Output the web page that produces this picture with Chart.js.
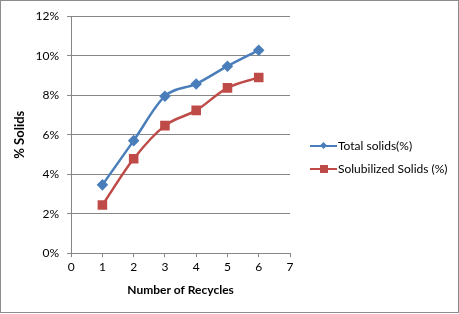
<!DOCTYPE html>
<html>
<head>
<meta charset="utf-8">
<script src="https://cdn.jsdelivr.net/npm/chart.js@4"></script>
<style>
  body { margin: 0; background: #fff; }
  #wrap { position: relative; width: 457px; height: 311px; border: 1px solid #8c8c8c; box-sizing: content-box; }
  #legend { position: absolute; left: 309px; top: 133px; font-family: Lato, "Open Sans", sans-serif; font-size: 12px; color: #000; }
  #legend div { display: flex; align-items: center; height: 23px; }
  .sw { position: relative; width: 27px; height: 10px; margin-right: 1px; }
  .sw .ln { position: absolute; left: 0; right: 0; top: 4px; height: 2px; }
  .sw .mk { position: absolute; }
</style>
</head>
<body>
<div id="wrap">
  <canvas id="chart" width="457" height="311"></canvas>
  <div id="legend"></div>
</div>
<script>
document.addEventListener('DOMContentLoaded', () => {
    const recycles = [1, 2, 3, 4, 5, 6];
    const totalSolids = [3.46, 5.70, 7.95, 8.57, 9.47, 10.28];
    const solubilizedSolids = [2.44, 4.78, 6.46, 7.23, 8.37, 8.90];
    const seriesNames = ['Total solids(%)', 'Solubilized Solids (%)'];
    const blue = '#4A7EBB';
    const red = '#BE4B48';
    const font = { family: 'Lato, "Open Sans", sans-serif', size: 12 };

    const toPoints = vals => vals.map((v, i) => ({ x: recycles[i], y: v }));

    new Chart(document.getElementById('chart'), {
        type: 'scatter',
        data: {
            datasets: [{
                label: seriesNames[0],
                data: toPoints(totalSolids),
                showLine: true,
                borderColor: blue,
                backgroundColor: blue,
                borderWidth: 2.5,
                pointStyle: 'rectRot',
                pointRadius: 4,
                cubicInterpolationMode: 'monotone'
            }, {
                label: seriesNames[1],
                data: toPoints(solubilizedSolids),
                showLine: true,
                borderColor: red,
                backgroundColor: red,
                borderWidth: 2.5,
                pointStyle: 'rect',
                pointRadius: 5,
                cubicInterpolationMode: 'monotone'
            }]
        },
        options: {
            responsive: false,
            animation: false,
            layout: { padding: { left: 11, right: 168, top: 15, bottom: 11 } },
            plugins: { legend: { display: false }, tooltip: { enabled: false } },
            scales: {
                x: {
                    type: 'linear',
                    min: 0, max: 7,
                    ticks: { stepSize: 1, color: '#000', font, padding: 3 },
                    grid: { drawOnChartArea: false, drawTicks: true, tickLength: 4, color: '#868686' },
                    border: { color: '#868686' },
                    title: { display: true, text: 'Number of Recycles', color: '#000', font: { ...font, weight: 'bold' }, padding: { top: 5 } }
                },
                y: {
                    min: 0, max: 12,
                    ticks: { stepSize: 2, color: '#000', font, padding: 8, callback: v => v + '%' },
                    grid: { color: '#868686', tickLength: 4 },
                    border: { color: '#868686' },
                    title: { display: true, text: '% Solids', color: '#000', font: { ...font, size: 13, weight: 'bold' }, padding: 0 }
                }
            }
        }
    });

    // Legend with line + marker swatches
    const legend = document.getElementById('legend');
    [[blue, 'diamond'], [red, 'square']].forEach(([c, shape], i) => {
        const row = document.createElement('div');
        const sw = document.createElement('span');
        sw.className = 'sw';
        const ln = document.createElement('span');
        ln.className = 'ln';
        ln.style.background = c;
        const mk = document.createElement('span');
        mk.className = 'mk';
        mk.style.background = c;
        if (shape === 'diamond') {
            Object.assign(mk.style, { width: '5px', height: '5px', left: '11px', top: '2px', transform: 'rotate(45deg)' });
        } else {
            Object.assign(mk.style, { width: '8px', height: '8px', left: '10px', top: '1px' });
        }
        sw.appendChild(ln);
        sw.appendChild(mk);
        const txt = document.createElement('span');
        txt.innerText = seriesNames[i];
        row.appendChild(sw);
        row.appendChild(txt);
        legend.appendChild(row);
    });
});
</script>
</body>
</html>
